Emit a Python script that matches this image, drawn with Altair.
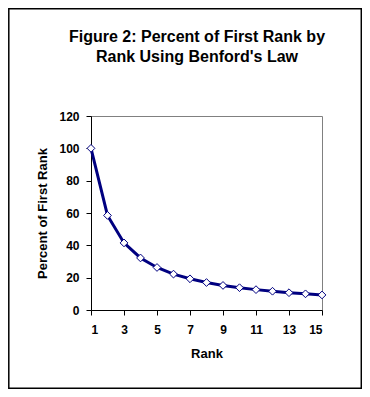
import altair as alt
import pandas as pd

rank = list(range(1, 16))
percent = [100, 58.5, 41.5, 32.2, 26.3, 22.2, 19.3, 17.0, 15.2, 13.8, 12.6, 11.6, 10.7, 10.0, 9.3]
x_ticks = [1, 3, 5, 7, 9, 11, 13, 15]
y_ticks = [0, 20, 40, 60, 80, 100, 120]
title_lines = ["Figure 2: Percent of First Rank by", "Rank Using Benford's Law"]

df = pd.DataFrame({"Rank": rank, "Percent": percent})
FONT = "Liberation Sans"
NAVY = "#000080"

x = alt.X("Rank:Q", scale=alt.Scale(domain=[1, 15], nice=False),
          axis=alt.Axis(values=x_ticks, title="Rank", grid=False))
y = alt.Y("Percent:Q", scale=alt.Scale(domain=[0, 120], nice=False),
          axis=alt.Axis(values=y_ticks, title="Percent of First Rank", grid=False))

frame = alt.Chart(alt.Data(values=[{}])).mark_rect(
    fill=None, stroke="black", strokeWidth=1.5
).encode(
    x=alt.value(-82.2), x2=alt.value(270.3),
    y=alt.value(-107.2), y2=alt.value(272.3)
)

t1 = alt.Chart(alt.Data(values=[{"t": title_lines[0]}])).mark_text(
    font=FONT, fontSize=16, fontWeight="bold", color="black", align="center", baseline="alphabetic"
).encode(text="t:N", x=alt.value(106), y=alt.value(-74))
t2 = alt.Chart(alt.Data(values=[{"t": title_lines[1]}])).mark_text(
    font=FONT, fontSize=16, fontWeight="bold", color="black", align="center", baseline="alphabetic"
).encode(text="t:N", x=alt.value(106), y=alt.value(-54))

line = alt.Chart(df).mark_line(color=NAVY, strokeWidth=3).encode(x=x, y=y)
pts = alt.Chart(df).mark_point(
    shape="diamond", filled=True, fill="white", stroke=NAVY, strokeWidth=1, size=60, opacity=1
).encode(x=x, y=y)

chart = alt.layer(frame, t1, t2, line, pts).properties(
    width=231, height=194,
    background="white",
    autosize=alt.AutoSizeParams(type="none"),
    padding={"left": 83, "top": 108, "right": 40, "bottom": 79},
).configure_view(
    stroke="#808080", strokeWidth=1
).configure_axis(
    domainColor="black", domainWidth=1, tickColor="black", tickSize=5,
    labelFont=FONT, labelFontSize=12, labelFontWeight="bold", labelColor="black",
    titleFont=FONT, titleFontSize=13, titleFontWeight="bold", titleColor="black",
).configure_axisX(
    labelPadding=9, titlePadding=12
).configure_axisY(
    labelPadding=7, titlePadding=9
)

chart.save("out.html", embed_options={"renderer": "svg", "actions": False})
